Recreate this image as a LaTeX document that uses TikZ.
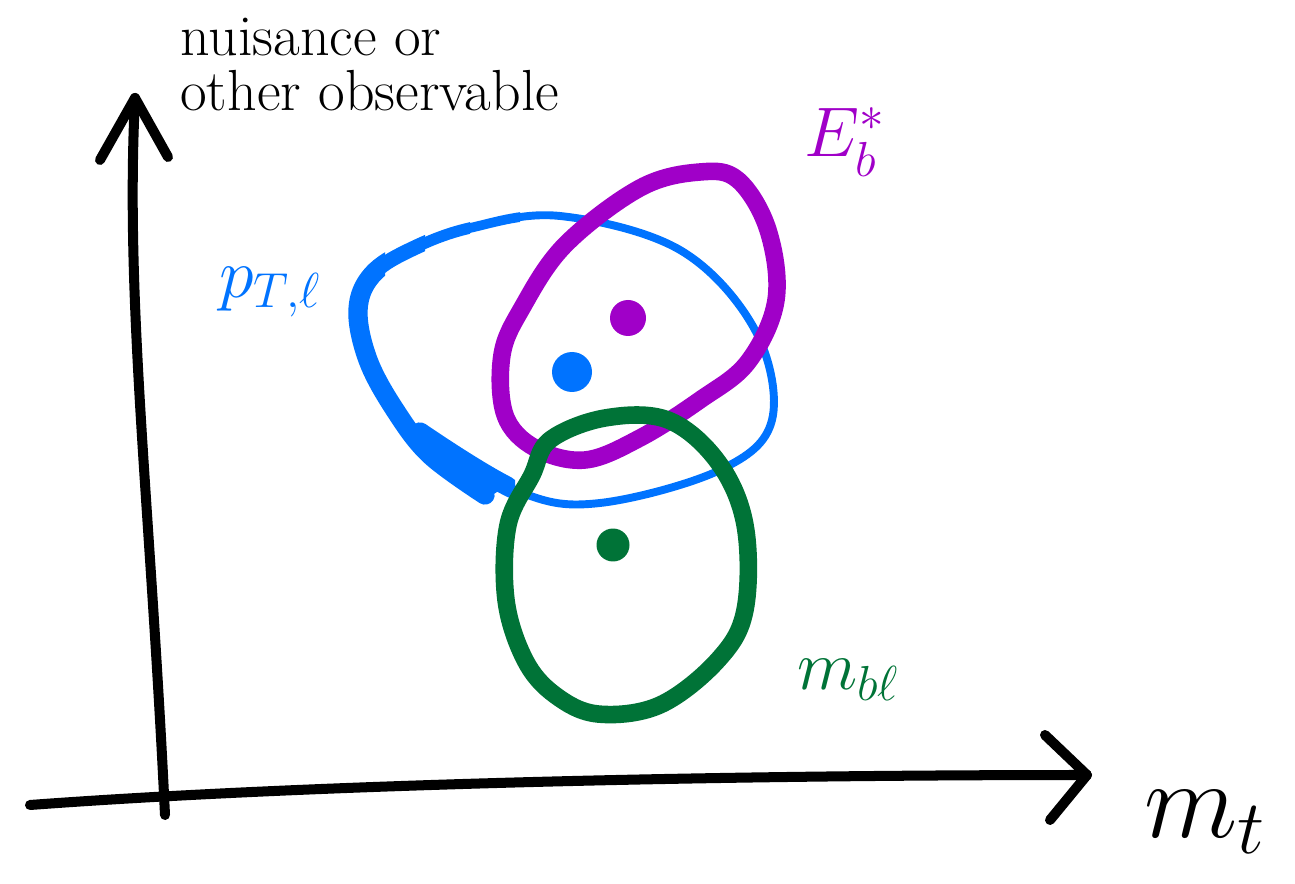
\RequirePackage{fix-cm}
\documentclass[tikz,border=0pt]{standalone}
\definecolor{sketchBlue}{RGB}{0,115,255}
\definecolor{sketchPurple}{RGB}{160,0,200}
\definecolor{sketchGreen}{RGB}{0,115,55}
\usepackage{amsmath}
\usepackage{amssymb}
\usetikzlibrary{positioning,calc}

\newcommand{\ptloop}{plot[smooth, tension=0.6] coordinates {
    (485,495) (430,455) (395,410) (368,360) (358,310) (372,275) (410,250)
    (470,228) (560,216) (680,250) (755,330) (772,420) (720,470) (600,503)
    (520,492) (420,432)}}

\begin{document}
\begin{tikzpicture}[x=0.02cm, y=-0.02cm,
    axis/.style={line width=5.7pt, line cap=round, line join=round},
    contour/.style={line width=#1, line cap=round, line join=round},
    lab/.style={inner sep=0pt, font=\fontsize{40}{44}\selectfont}
  ]
  \useasboundingbox (0,0) rectangle (1295,884);

  % axes
  \coordinate (yfoot) at (165,815);
  \coordinate (ytip)  at (135,98);
  \coordinate (xfoot) at (30,805);
  \coordinate (xtip)  at (1087,775);
  \draw[axis] (yfoot) .. controls (150,500) and (125,300) .. (ytip);
  \draw[axis] (100,160) -- (ytip) -- (168,157);
  \draw[axis] (xfoot) .. controls (300,785) and (700,775) .. (xtip);
  \draw[axis] (1045,735) -- (xtip) -- (1050,820);

  % blue: p_T of lepton, heavier on the left
  \draw[sketchBlue, contour=4.5pt] \ptloop;
  \begin{scope}
    \clip (300,200) -- (385,200) -- (385,300) -- (460,440) -- (515,480)
      -- (515,530) -- (300,530) -- cycle;
    \draw[sketchBlue, contour=11pt] \ptloop;
  \end{scope}
  \begin{scope}
    \clip (385,200) rectangle (425,300);
    \draw[sketchBlue, contour=8.5pt] \ptloop;
  \end{scope}
  \begin{scope}
    \clip (425,200) rectangle (470,300);
    \draw[sketchBlue, contour=6.5pt] \ptloop;
  \end{scope}
  \begin{scope}
    \clip (470,200) rectangle (520,300);
    \draw[sketchBlue, contour=5.5pt] \ptloop;
  \end{scope}
  \fill[sketchBlue] (420,432) -- (500,490) -- (480,503) -- (438,462) -- cycle;

  % purple: E_b^*
  \draw[sketchPurple, contour=10pt] plot[smooth cycle, tension=0.6] coordinates {
    (565,245) (640,188) (700,172) (738,180) (768,230) (776,300) (748,362)
    (700,400) (640,438) (585,460) (535,448) (505,415) (502,355) (522,308)};

  % green: m_bl
  \draw[sketchGreen, contour=10pt] plot[smooth cycle, tension=0.6] coordinates {
    (550,440) (605,418) (668,420) (718,462) (745,525) (745,610) (718,660)
    (660,705) (598,714) (555,695) (525,660) (506,600) (508,525) (532,475)};

  % best-fit points
  \fill[sketchPurple] (628,318) circle (0.36cm);
  \fill[sketchBlue]   (572,372) circle (0.40cm);
  \fill[sketchGreen]  (613,545) circle (0.33cm);

  % labels
  \node[lab, anchor=north west, align=left, font=\fontsize{33}{31}\selectfont]
    (ylabel) at (180,18) {nuisance or\\other observable};
  \node[lab, text=sketchPurple] (ebstar) at (845,142) {$E_b^*$};
  \node[lab, text=sketchBlue]   (ptl)    at (270,292) {$p_{T,\ell}$};
  \node[lab, text=sketchGreen]  (mbl)    at (848,680) {$m_{b\ell}$};
  \node[lab, font=\fontsize{62}{66}\selectfont] (mt) at (1205,822) {$m_t$};
\end{tikzpicture}
\end{document}
